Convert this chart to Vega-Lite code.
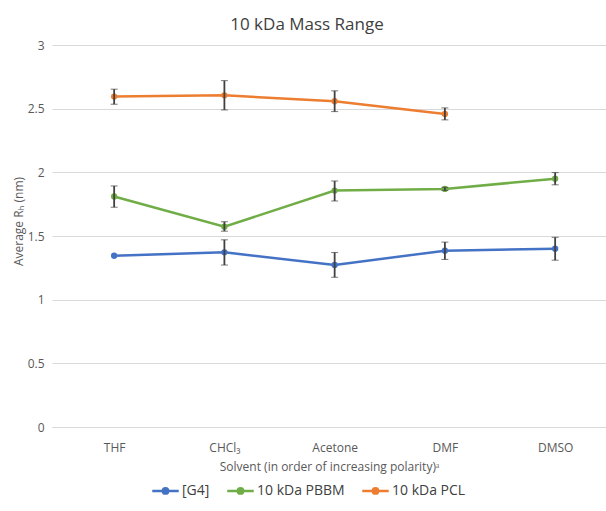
{
  "$schema": "https://vega.github.io/schema/vega-lite/v6.json",
  "width": 554,
  "height": 382,
  "autosize": "none",
  "padding": {"left": 52, "top": 45, "right": 0, "bottom": 84},
  "title": {"text": "10 kDa Mass Range", "fontSize": 17, "font": "Open Sans", "fontWeight": "normal", "color": "#404040", "offset": 5, "dx": -22},
  "data": {"values": [
    {"solvent": "THF", "series": "[G4]", "rh": 1.345, "lo": null, "hi": null},
    {"solvent": "CHCl₃", "series": "[G4]", "rh": 1.372, "lo": 1.272, "hi": 1.470},
    {"solvent": "Acetone", "series": "[G4]", "rh": 1.272, "lo": 1.176, "hi": 1.370},
    {"solvent": "DMF", "series": "[G4]", "rh": 1.385, "lo": 1.316, "hi": 1.452},
    {"solvent": "DMSO", "series": "[G4]", "rh": 1.400, "lo": 1.310, "hi": 1.490},
    {"solvent": "THF", "series": "10 kDa PBBM", "rh": 1.810, "lo": 1.726, "hi": 1.893},
    {"solvent": "CHCl₃", "series": "10 kDa PBBM", "rh": 1.573, "lo": 1.538, "hi": 1.612},
    {"solvent": "Acetone", "series": "10 kDa PBBM", "rh": 1.857, "lo": 1.775, "hi": 1.932},
    {"solvent": "DMF", "series": "10 kDa PBBM", "rh": 1.870, "lo": 1.858, "hi": 1.882},
    {"solvent": "DMSO", "series": "10 kDa PBBM", "rh": 1.950, "lo": 1.902, "hi": 1.998},
    {"solvent": "THF", "series": "10 kDa PCL", "rh": 2.595, "lo": 2.535, "hi": 2.653},
    {"solvent": "CHCl₃", "series": "10 kDa PCL", "rh": 2.605, "lo": 2.490, "hi": 2.720},
    {"solvent": "Acetone", "series": "10 kDa PCL", "rh": 2.558, "lo": 2.477, "hi": 2.640},
    {"solvent": "DMF", "series": "10 kDa PCL", "rh": 2.459, "lo": 2.412, "hi": 2.506}
  ]},
  "encoding": {
    "x": {"field": "solvent", "type": "nominal",
      "scale": {"type": "point", "domain": ["THF", "CHCl₃", "Acetone", "DMF", "DMSO"], "padding": 0.5125, "align": 0.55},
      "axis": {"title": "Solvent (in order of increasing polarity)ᵃ", "labelAngle": 0, "ticks": false, "labelPadding": 15, "domainColor": "#d9d9d9", "titleY": 39, "titleBaseline": "middle", "grid": false}
    }
  },
  "layer": [
    {
      "mark": {"type": "line", "strokeWidth": 2.5},
      "encoding": {
        "y": {"field": "rh", "type": "quantitative", "title": "Average Rₕ (nm)",
          "scale": {"domain": [0, 3], "nice": false, "zero": true},
          "axis": {"values": [0, 0.5, 1, 1.5, 2, 2.5, 3], "format": "~g", "ticks": false, "domain": false, "labelPadding": 8, "titleX": -34, "titleY": 176, "titleBaseline": "middle", "gridColor": "#d9d9d9"}},
        "color": {"field": "series", "type": "nominal",
          "scale": {"domain": ["[G4]", "10 kDa PBBM", "10 kDa PCL"], "range": ["#4472C4", "#70AD47", "#ED7D31"]},
          "legend": {"title": null, "orient": "none", "direction": "horizontal", "legendX": 99, "legendY": 431,
            "symbolType": "M-1,0H1M-0.2,0A0.2,0.2,0,1,0,0.2,0A0.2,0.2,0,1,0,-0.2,0Z", "symbolSize": 700, "symbolStrokeWidth": 2.5,
            "labelFontSize": 14, "labelFont": "Open Sans", "labelColor": "#404040", "columnPadding": 12, "labelOffset": 2,
            "encode": {"symbols": {"update": {"fill": {"field": "value", "scale": "color"}}}}}}
      }
    },
    {
      "mark": {"type": "point", "filled": true, "size": 40, "opacity": 1},
      "encoding": {
        "y": {"field": "rh", "type": "quantitative"},
        "color": {"field": "series", "type": "nominal", "legend": null}
      }
    },
    {
      "transform": [{"filter": "datum.lo != null"}],
      "mark": {"type": "errorbar", "ticks": {"size": 7, "color": "#404040", "strokeWidth": 1.8}, "rule": {"color": "#404040", "strokeWidth": 1.8}},
      "encoding": {
        "y": {"field": "lo", "type": "quantitative", "title": "Average Rₕ (nm)"},
        "y2": {"field": "hi"}
      }
    }
  ],
  "config": {
    "view": {"stroke": null},
    "font": "Open Sans",
    "axis": {"labelFont": "Open Sans", "labelFontSize": 12, "labelColor": "#595959", "titleFont": "Open Sans", "titleFontSize": 12, "titleFontWeight": "normal", "titleColor": "#595959"}
  }
}
